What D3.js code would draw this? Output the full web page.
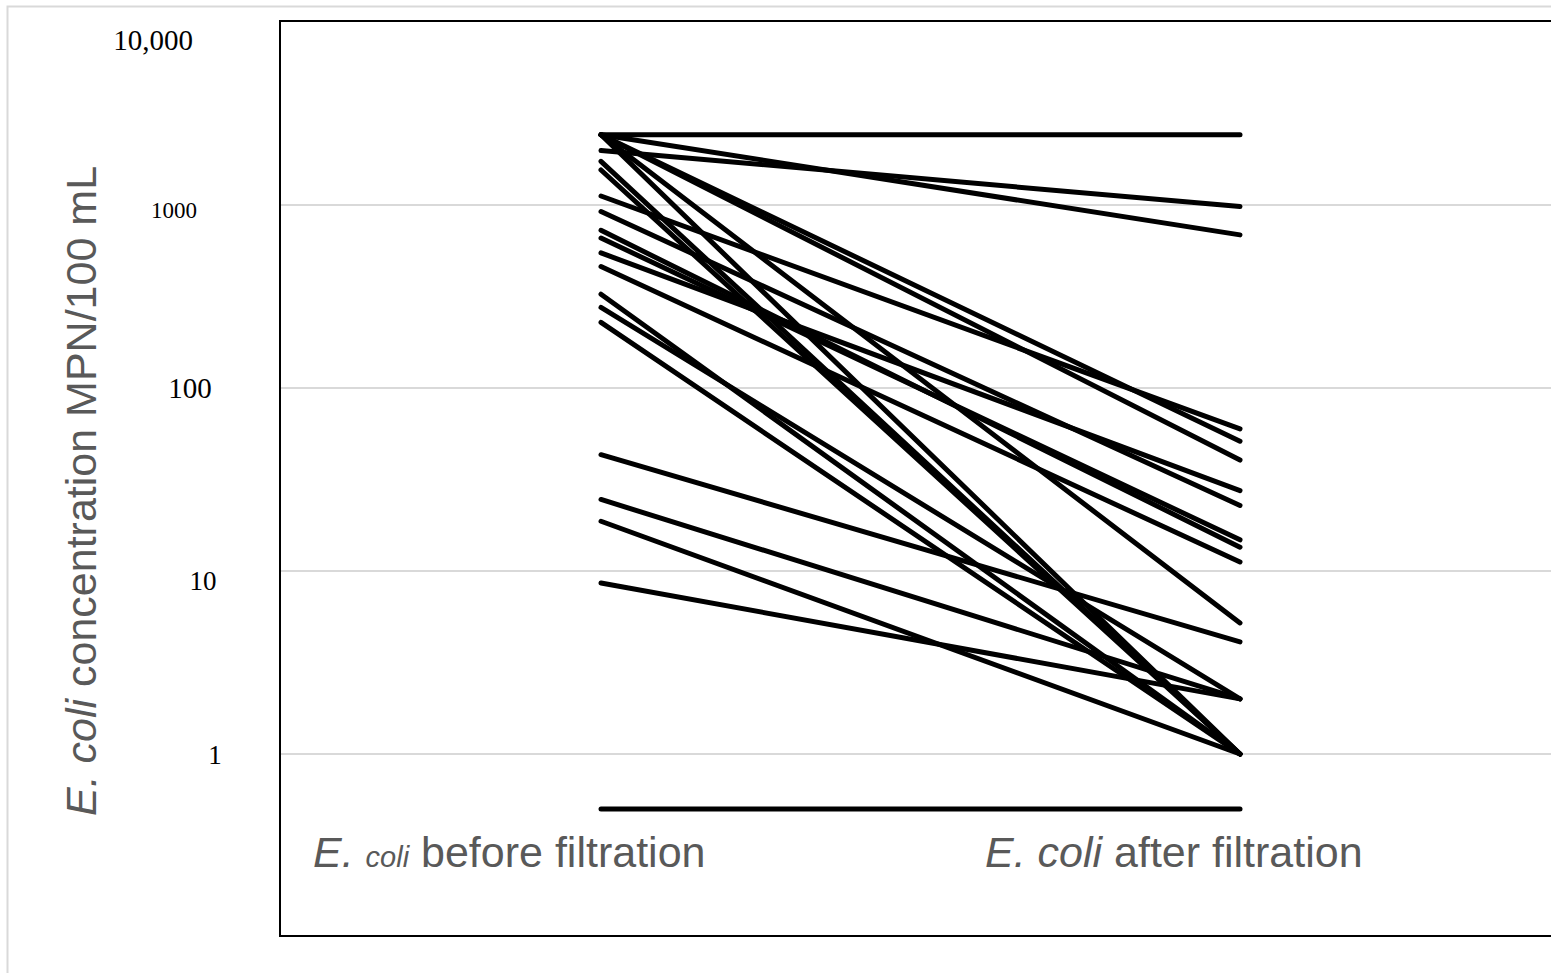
<!DOCTYPE html>
<html>
<head>
<meta charset="utf-8">
<script src="https://cdn.jsdelivr.net/npm/d3@7"></script>
<style>
  html, body { margin: 0; padding: 0; background: #fff; }
  svg { display: block; }
</style>
</head>
<body>
<svg id="chart" width="1551" height="973"></svg>
<script>
// categories on the x axis
var categories = ["before", "after"];

// paired E. coli counts (MPN/100 mL), before and after filtration
var beforeValues = [2419.6, 2419.6, 1986.3, 2419.6, 1119.9, 2419.6, 547.5, 660.0, 727.0,
                    920.8, 461.1, 2419.6, 43.2, 24.6, 8.6, 18.7, 2419.6, 1732.9, 1553.1,
                    325.5, 275.5, 228.2, 0.5];
var afterValues  = [2419.6, 686.7, 980.4, 51.2, 59.8, 40.4, 27.5, 14.8, 13.5,
                    22.8, 11.2, 5.2, 4.1, 2.0, 2.0, 1.0, 1.0, 1.0, 1.0,
                    1.0, 2.0, 1.0, 0.5];

var tickValues = [1, 10, 100, 1000, 10000];
var tickLabels = ["1", "10", "100", "1000", "10,000"];

var svg = d3.select("#chart");
var W = 1551, H = 973;

var y = d3.scaleLog().domain([0.1, 10000]).range([937, 22]);
var x = d3.scalePoint().domain(categories).range([601, 1240]);

// outer chart frame
svg.append("rect")
    .attr("x", 7.5).attr("y", 6.5)
    .attr("width", W).attr("height", H)
    .attr("fill", "none")
    .attr("stroke", "#d9d9d9")
    .attr("stroke-width", 2);

// gridlines
svg.append("g")
    .selectAll("line")
    .data(tickValues.filter(function (d) { return d < 10000; }))
    .enter().append("line")
    .attr("x1", 280).attr("x2", W)
    .attr("y1", function (d) { return y(d); })
    .attr("y2", function (d) { return y(d); })
    .attr("stroke", "#d9d9d9")
    .attr("stroke-width", 2);

// plot box
svg.append("rect")
    .attr("x", 280).attr("y", 21)
    .attr("width", W).attr("height", 915)
    .attr("fill", "none")
    .attr("stroke", "#000")
    .attr("stroke-width", 2);

// tick labels (the source figure has them placed by hand, a bit ragged)
var labelPos = {
    1: { x: 215, dy: 10, size: 27 },
    10: { x: 203, dy: 19, size: 27 },
    100: { x: 190, dy: 10, size: 29 },
    1000: { x: 174, dy: 13, size: 23 },
    10000: { x: 153, dy: 28, size: 29 }
};
svg.append("defs").append("clipPath").attr("id", "clip100")
    .append("rect").attr("x", 0).attr("y", 0).attr("width", 270).attr("height", 399);

svg.append("g")
    .selectAll("text")
    .data(tickValues)
    .enter().append("text")
    .attr("x", function (d) { return labelPos[d].x; })
    .attr("y", function (d) { return y(d) + labelPos[d].dy; })
    .attr("text-anchor", "middle")
    .attr("clip-path", function (d) { return d === 100 ? "url(#clip100)" : null; })
    .style("font-family", "'Liberation Serif', 'Times New Roman', serif")
    .style("font-size", function (d) { return labelPos[d].size + "px"; })
    .attr("fill", "#000")
    .text(function (d, i) { return tickLabels[i]; });

// paired lines
var pairs = beforeValues.map(function (b, i) {
    return [[categories[0], b], [categories[1], afterValues[i]]];
});
var line = d3.line()
    .x(function (d) { return x(d[0]); })
    .y(function (d) { return y(d[1]); });

svg.append("g")
    .selectAll("path")
    .data(pairs)
    .enter().append("path")
    .attr("d", line)
    .attr("fill", "none")
    .attr("stroke", "#000")
    .attr("stroke-width", 5)
    .attr("stroke-linecap", "round");

// category labels
var grey = "#595959";
var sans = "'Liberation Sans', Arial, sans-serif";

var lb = svg.append("text")
    .attr("x", 313).attr("y", 867)
    .style("font-family", sans).style("font-size", "43px")
    .attr("fill", grey);
lb.append("tspan").style("font-style", "italic").text("E. ");
lb.append("tspan").style("font-style", "italic").style("font-size", "29px").text("coli");
lb.append("tspan").text(" before filtration");

var la = svg.append("text")
    .attr("x", 985).attr("y", 867)
    .style("font-family", sans).style("font-size", "43px")
    .attr("fill", grey);
la.append("tspan").style("font-style", "italic").text("E. coli");
la.append("tspan").text(" after filtration");

// y axis title
var yt = svg.append("text")
    .attr("transform", "translate(96,491) rotate(-90)")
    .attr("text-anchor", "middle")
    .style("font-family", sans).style("font-size", "43px")
    .attr("fill", grey);
yt.append("tspan").style("font-style", "italic").text("E. coli");
yt.append("tspan").text(" concentration MPN/100 mL");
</script>
</body>
</html>
